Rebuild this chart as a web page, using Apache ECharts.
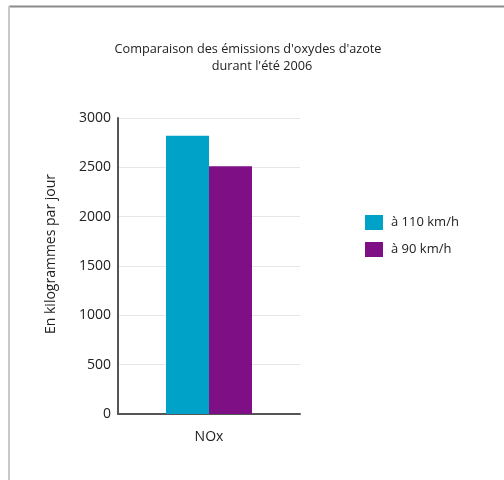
<!DOCTYPE html>
<html><head><meta charset="utf-8">
<script src="https://cdn.jsdelivr.net/npm/echarts@6/dist/echarts.min.js"></script>
<style>html,body{margin:0;padding:0;background:#fff}#c{width:504px;height:480px}</style>
</head><body><div id="c"></div>
<script>
const categories = ['NOx'];
const seriesNames = ['à 110 km/h', 'à 90 km/h'];
const values110 = [2820];
const values90 = [2510];
const yTicks = { min: 0, max: 3000, interval: 500 };
const colors = ['#00a3c7', '#7f0f84'];
const FONT = '"Open Sans", "Noto Sans", sans-serif';

const chart = echarts.init(document.getElementById('c'), null, {renderer: 'canvas'});
chart.setOption({
  animation: false,
  backgroundColor: '#fff',
  graphic: [
    {type: 'line', shape: {x1: 9, y1: 6.5, x2: 504, y2: 6.5}, style: {stroke: '#8a8a8a', lineWidth: 2}},
    {type: 'line', shape: {x1: 9, y1: 6, x2: 9, y2: 480}, style: {stroke: '#c8c8c8', lineWidth: 2}}
  ],
  title: [
    {text: "Comparaison des émissions d'oxydes d'azote", left: 243, top: 38, textAlign: 'center',
     textStyle: {fontFamily: FONT, fontSize: 12.7, fontWeight: 'normal', color: '#222'}},
    {text: "durant l'été 2006", left: 257, top: 55, textAlign: 'center',
     textStyle: {fontFamily: FONT, fontSize: 12.7, fontWeight: 'normal', color: '#222'}}
  ],
  legend: {
    orient: 'vertical', left: 365, top: 215, padding: 0, itemWidth: 18, itemHeight: 15, itemGap: 12,
    icon: 'rect',
    textStyle: {fontFamily: FONT, fontSize: 13, color: '#222', padding: [0, 0, 0, 3]},
    data: seriesNames
  },
  grid: {left: 118, right: 204, top: 118, bottom: 66, containLabel: false},
  xAxis: {
    type: 'category', data: categories,
    axisLine: {lineStyle: {color: '#555', width: 2}},
    axisTick: {show: false},
    axisLabel: {fontFamily: FONT, fontSize: 14, color: '#222', margin: 16}
  },
  yAxis: {
    type: 'value', min: yTicks.min, max: yTicks.max, interval: yTicks.interval,
    name: 'En kilogrammes par jour', nameLocation: 'middle', nameGap: 60,
    nameTextStyle: {fontFamily: FONT, fontSize: 14, color: '#222', padding: [0, 0, 0, 24]},
    axisLine: {show: true, lineStyle: {color: '#555', width: 2}},
    axisTick: {show: false},
    axisLabel: {fontFamily: FONT, fontSize: 14, color: '#222', margin: 7, formatter: v => String(v)},
    splitLine: {lineStyle: {color: '#e6e6e6'}}
  },
  series: [
    {name: seriesNames[0], type: 'bar', data: values110, barWidth: 43, barGap: '0%', itemStyle: {color: colors[0]}},
    {name: seriesNames[1], type: 'bar', data: values90, barWidth: 43, barGap: '0%', itemStyle: {color: colors[1]}}
  ]
});
</script></body></html>
